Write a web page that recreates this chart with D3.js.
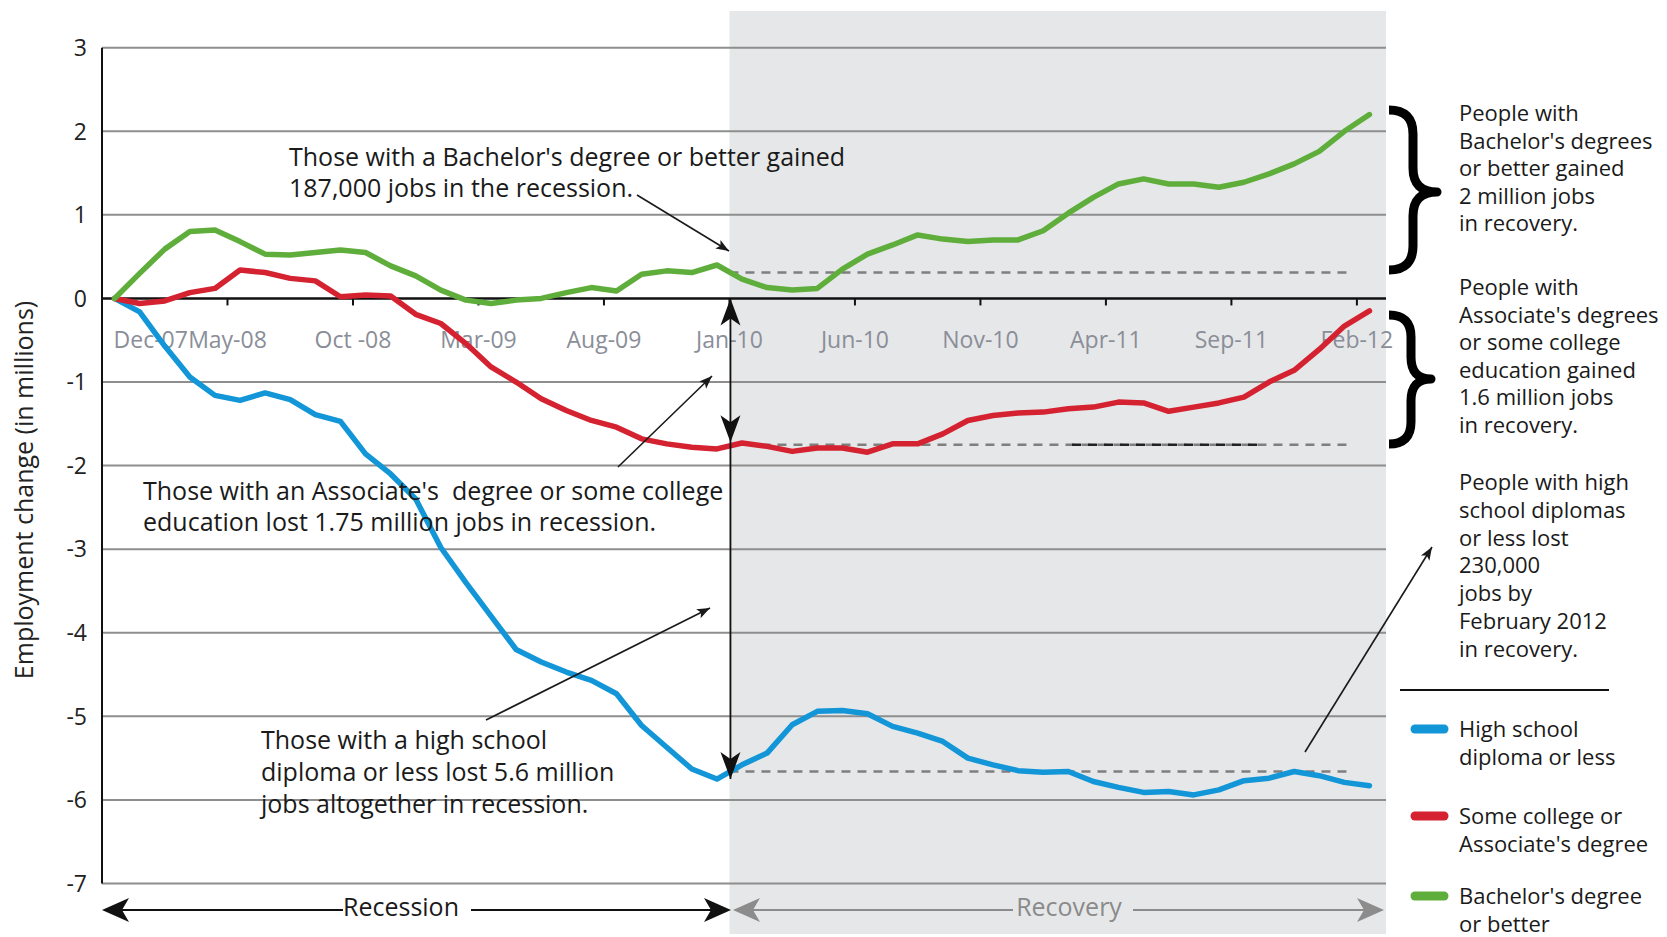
<!DOCTYPE html>
<html>
<head>
<meta charset="utf-8">
<script src="https://cdnjs.cloudflare.com/ajax/libs/d3/7.8.5/d3.min.js"></script>
<style>
    body { margin: 0; background: #fff; }
    svg text { font-family: "Open Sans", Lato, sans-serif; white-space: pre; }
</style>
</head>
<body>
<svg width="1667" height="937"></svg>
<script>
// one category per month, Dec-07 .. Feb-12
var months = ["Dec-07",
    "Jan-08", "Feb-08", "Mar-08", "Apr-08", "May-08", "Jun-08", "Jul-08", "Aug-08", "Sep-08", "Oct-08", "Nov-08", "Dec-08",
    "Jan-09", "Feb-09", "Mar-09", "Apr-09", "May-09", "Jun-09", "Jul-09", "Aug-09", "Sep-09", "Oct-09", "Nov-09", "Dec-09",
    "Jan-10", "Feb-10", "Mar-10", "Apr-10", "May-10", "Jun-10", "Jul-10", "Aug-10", "Sep-10", "Oct-10", "Nov-10", "Dec-10",
    "Jan-11", "Feb-11", "Mar-11", "Apr-11", "May-11", "Jun-11", "Jul-11", "Aug-11", "Sep-11", "Oct-11", "Nov-11", "Dec-11",
    "Jan-12", "Feb-12"];

var tick_index = [0, 5, 10, 15, 20, 25, 30, 35, 40, 45, 50];
var tick_labels = ["Dec-07", "May-08", "Oct -08", "Mar-09", "Aug-09", "Jan-10", "Jun-10", "Nov-10", "Apr-11", "Sep-11", "Feb-12"];

// employment change since Dec-07, millions
var high_school = [0, -0.16, -0.57, -0.94, -1.16, -1.22, -1.13, -1.21, -1.39, -1.47,
    -1.86, -2.10, -2.40, -2.98, -3.40, -3.80, -4.20, -4.35, -4.47, -4.57,
    -4.73, -5.11, -5.37, -5.63, -5.75, -5.58, -5.44, -5.10, -4.94, -4.93,
    -4.97, -5.12, -5.20, -5.30, -5.50, -5.58, -5.65, -5.67, -5.66, -5.78,
    -5.85, -5.91, -5.90, -5.94, -5.88, -5.77, -5.74, -5.66, -5.71, -5.79, -5.83];

var some_college = [0, -0.06, -0.03, 0.07, 0.12, 0.34, 0.31, 0.24, 0.21, 0.02,
    0.04, 0.03, -0.19, -0.30, -0.54, -0.82, -1.00, -1.20, -1.34, -1.46,
    -1.54, -1.68, -1.74, -1.78, -1.80, -1.73, -1.77, -1.83, -1.79, -1.79,
    -1.84, -1.74, -1.74, -1.62, -1.46, -1.40, -1.37, -1.36, -1.32, -1.30,
    -1.24, -1.25, -1.35, -1.30, -1.25, -1.18, -1.00, -0.86, -0.61, -0.33, -0.15];

var bachelors = [0, 0.30, 0.59, 0.80, 0.82, 0.68, 0.53, 0.52, 0.55, 0.58,
    0.55, 0.39, 0.27, 0.10, -0.02, -0.06, -0.02, 0.00, 0.07, 0.13,
    0.09, 0.29, 0.33, 0.31, 0.40, 0.23, 0.13, 0.10, 0.12, 0.35,
    0.53, 0.64, 0.76, 0.71, 0.68, 0.70, 0.70, 0.81, 1.02, 1.21,
    1.37, 1.43, 1.37, 1.37, 1.33, 1.39, 1.49, 1.61, 1.76, 2.00, 2.20];

// level of each series where the recession ends (dashed reference lines)
var recession_end_levels = [-5.66, -1.75, 0.31];
var series_names = ["High school diploma or less", "Some college or Associate's degree", "Bachelor's degree or better"];
var series_colors = ["#1296d8", "#d42230", "#5fae3c"];
var recovery_start = 25;   // Jan-10

var svg = d3.select("svg");
var plot_left = 102, plot_right = 1386;

var x = d3.scaleLinear().domain([0, months.length]).range([plot_left, 1382]);
var y = d3.scaleLinear().domain([-7, 3]).range([883.5, 47.7]);

// recovery shading
svg.append("rect")
    .attr("x", x(recovery_start)).attr("y", 11)
    .attr("width", plot_right - x(recovery_start)).attr("height", 923)
    .attr("fill", "#e6e7e9");

// gridlines + y labels
var y_ticks = y.ticks(10);
svg.selectAll(".grid").data(y_ticks).enter().append("line")
    .attr("x1", plot_left).attr("x2", plot_right)
    .attr("y1", function (d) { return y(d); }).attr("y2", function (d) { return y(d); })
    .attr("stroke", function (d) { return d == 0 ? "#111" : "#8e8e8e"; })
    .attr("stroke-width", function (d) { return d == 0 ? 2.5 : 2; });

svg.selectAll(".ylab").data(y_ticks).enter().append("text")
    .attr("x", 87).attr("y", function (d) { return y(d); })
    .attr("dy", "0.36em")
    .attr("text-anchor", "end")
    .attr("font-size", 23)
    .attr("fill", "#222")
    .text(function (d) { return d; });

svg.append("line")
    .attr("x1", plot_left).attr("x2", plot_left)
    .attr("y1", y(3)).attr("y2", y(-7))
    .attr("stroke", "#111").attr("stroke-width", 2);

svg.append("text")
    .attr("transform", "translate(33," + 490 + ") rotate(-90)")
    .attr("text-anchor", "middle")
    .attr("font-size", 25)
    .attr("fill", "#222")
    .text("Employment change (in millions)");

// x ticks and labels
svg.selectAll(".xtick").data(tick_index.slice(1)).enter().append("line")
    .attr("x1", function (d) { return x(d); }).attr("x2", function (d) { return x(d); })
    .attr("y1", y(0)).attr("y2", y(0) + 7)
    .attr("stroke", "#111").attr("stroke-width", 2);

svg.selectAll(".xlab").data(tick_index).enter().append("text")
    .attr("x", function (d) { return d == 0 ? x(0.5) - 1 : x(d); })
    .attr("y", 348)
    .attr("text-anchor", function (d) { return d == 0 ? "start" : "middle"; })
    .attr("font-size", 23)
    .attr("fill", "#8a8e98")
    .text(function (d, i) { return tick_labels[i]; });

// dashed recession-end levels
recession_end_levels.forEach(function (v) {
    svg.append("line")
        .attr("x1", x(recovery_start)).attr("x2", 1353)
        .attr("y1", y(v)).attr("y2", y(v))
        .attr("stroke", "#7f7f7f").attr("stroke-width", 2.5)
        .attr("stroke-dasharray", "9,7");
});
// darker stretch on the associate's level line, as in the source
svg.append("line")
    .attr("x1", 1070).attr("x2", 1262)
    .attr("y1", y(recession_end_levels[1])).attr("y2", y(recession_end_levels[1]))
    .attr("stroke", "#222").attr("stroke-width", 2.5)
    .attr("stroke-dasharray", "9,7").attr("stroke-dashoffset", -2);

// series
var line = d3.line()
    .x(function (d, i) { return x(i + 0.5); })
    .y(function (d) { return y(d); });

[high_school, some_college, bachelors].forEach(function (s, k) {
    svg.append("path")
        .datum(s)
        .attr("fill", "none")
        .attr("stroke", series_colors[k])
        .attr("stroke-width", 5.5)
        .attr("stroke-linejoin", "round")
        .attr("stroke-linecap", "round")
        .attr("d", line);
});

function arrow_head(tx, ty, deg, len, half, notch, color) {
    svg.append("path")
        .attr("d", "M0,0 L" + (-len) + "," + (-half) + " L" + (-len + notch) + ",0 L" + (-len) + "," + half + " Z")
        .attr("transform", "translate(" + tx + "," + ty + ") rotate(" + deg + ")")
        .attr("fill", color);
}

function pointer(x1, y1, x2, y2) {
    var deg = Math.atan2(y2 - y1, x2 - x1) * 180 / Math.PI;
    svg.append("line")
        .attr("x1", x1).attr("y1", y1).attr("x2", x2).attr("y2", y2)
        .attr("stroke", "#1a1a1a").attr("stroke-width", 1.6);
    arrow_head(x2, y2, deg, 13, 5, 3, "#1a1a1a");
}

// vertical double arrow at recession end
var xv = x(recovery_start) + 1;
svg.append("line")
    .attr("x1", xv).attr("x2", xv)
    .attr("y1", y(0)).attr("y2", y(-5.75))
    .attr("stroke", "#111").attr("stroke-width", 1.8);
arrow_head(xv, y(0), -90, 27, 10, 7, "#111");
arrow_head(xv, y(-1.72), 90, 27, 10, 7, "#111");
arrow_head(xv, y(-5.75), 90, 27, 10, 7, "#111");

// annotation pointers
pointer(637, 195, 729, 251);
pointer(618, 467, 712, 376);
pointer(486, 720, 710, 608);
pointer(1305, 752, 1432, 547);

function text_block(lines, tx, ty, size, lh, color) {
    var t = svg.append("text")
        .attr("x", tx).attr("y", ty)
        .attr("font-size", size)
        .attr("fill", color || "#1a1a1a");
    lines.forEach(function (l, i) {
        t.append("tspan").attr("x", tx).attr("y", ty + i * lh).text(l);
    });
}

text_block(["Those with a Bachelor's degree or better gained", "187,000 jobs in the recession."], 289, 166, 25, 30.5);
text_block(["Those with an Associate's  degree or some college", "education lost 1.75 million jobs in recession."], 143, 500, 25, 31);
text_block(["Those with a high school", "diploma or less lost 5.6 million", "jobs altogether in recession."], 261, 749, 25, 32);

text_block(["People with", "Bachelor's degrees", "or better gained", "2 million jobs", "in recovery."], 1459, 121, 22, 27.6);
text_block(["People with", "Associate's degrees", "or some college", "education gained", "1.6 million jobs", "in recovery."], 1459, 295, 22, 27.6);
text_block(["People with high", "school diplomas", "or less lost", "230,000", "jobs by", "February 2012", "in recovery."], 1459, 490, 22, 27.8);

// braces
function brace(x0, xs, xt, y0, ym, y1, r) {
    var d = "M" + x0 + "," + y0 +
        " Q" + xs + "," + y0 + " " + xs + "," + (y0 + r) +
        " L" + xs + "," + (ym - r) +
        " Q" + xs + "," + ym + " " + xt + "," + ym +
        " Q" + xs + "," + ym + " " + xs + "," + (ym + r) +
        " L" + xs + "," + (y1 - r) +
        " Q" + xs + "," + y1 + " " + x0 + "," + y1;
    svg.append("path").attr("d", d)
        .attr("fill", "none").attr("stroke", "#000")
        .attr("stroke-width", 9).attr("stroke-linejoin", "round");
}
brace(1389, 1413, 1437, 110, 192, 270, 24);
brace(1389, 1411, 1431, 315, 379, 444, 22);

// legend
svg.append("line")
    .attr("x1", 1400).attr("x2", 1609).attr("y1", 690).attr("y2", 690)
    .attr("stroke", "#111").attr("stroke-width", 2);

var legend_y = [729, 816, 896];
var legend_lines = [["High school", "diploma or less"], ["Some college or", "Associate's degree"], ["Bachelor's degree", "or better"]];
legend_y.forEach(function (ly, k) {
    svg.append("line")
        .attr("x1", 1415).attr("x2", 1444).attr("y1", ly).attr("y2", ly)
        .attr("stroke", series_colors[k]).attr("stroke-width", 9)
        .attr("stroke-linecap", "round");
    text_block(legend_lines[k], 1459, ly + 8, 22, 27.5);
});

// recession / recovery span arrows
svg.append("line").attr("x1", 104).attr("x2", 343).attr("y1", 910).attr("y2", 910)
    .attr("stroke", "#111").attr("stroke-width", 1.8);
svg.append("line").attr("x1", 471).attr("x2", 728).attr("y1", 910).attr("y2", 910)
    .attr("stroke", "#111").attr("stroke-width", 1.8);
arrow_head(102, 910, 180, 27, 12, 7, "#111");
arrow_head(731, 910, 0, 27, 12, 7, "#111");
svg.append("text").attr("x", 401).attr("y", 916)
    .attr("text-anchor", "middle").attr("font-size", 25).attr("fill", "#1a1a1a")
    .text("Recession");

svg.append("line").attr("x1", 736).attr("x2", 1013).attr("y1", 910).attr("y2", 910)
    .attr("stroke", "#8c8c8c").attr("stroke-width", 1.8);
svg.append("line").attr("x1", 1133).attr("x2", 1380).attr("y1", 910).attr("y2", 910)
    .attr("stroke", "#8c8c8c").attr("stroke-width", 1.8);
arrow_head(733, 910, 180, 27, 12, 7, "#8c8c8c");
arrow_head(1384, 910, 0, 27, 12, 7, "#8c8c8c");
svg.append("text").attr("x", 1069).attr("y", 916)
    .attr("text-anchor", "middle").attr("font-size", 25).attr("fill", "#8a8a8a")
    .text("Recovery");
</script>
</body>
</html>
